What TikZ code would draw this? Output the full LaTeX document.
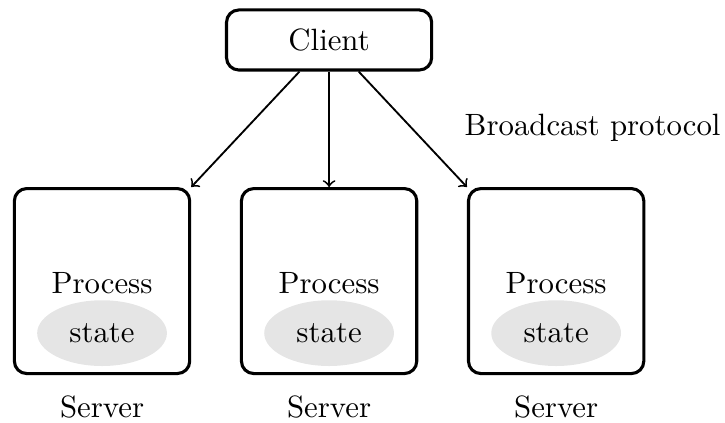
\documentclass[tikz,border=0pt]{standalone}
\usetikzlibrary{arrows.meta,positioning,shapes}
\begin{document}
\begin{tikzpicture}[xscale=1,yscale=1,>=to]
\tikzstyle{srv}=[draw,line width=1pt,rounded corners=4pt,minimum width=2cm,minimum height=2.11cm]
\tikzstyle{st}=[ellipse,fill=gray!20,minimum width=1.48cm,minimum height=0.75cm,inner sep=0pt]
\useasboundingbox (0,0) rectangle (8.27,-4.815);
\node[srv,minimum width=2.34cm,minimum height=0.685cm] (c) at (3.754,-0.456) {Client};
\node[srv] (s1) at (1.164,-3.206) {};
\node[srv] (s2) at (3.754,-3.206) {};
\node[srv] (s3) at (6.344,-3.206) {};
\node[st] (e1) at (1.164,-3.80) {state};
\node[st] (e2) at (3.754,-3.80) {state};
\node[st] (e3) at (6.344,-3.80) {state};
\node (p1) at (1.164,-3.23) {Process};
\node (p2) at (3.754,-3.23) {Process};
\node (p3) at (6.344,-3.23) {Process};
\node (l1) at (1.164,-4.644) {Server};
\node (l2) at (3.754,-4.644) {Server};
\node (l3) at (6.344,-4.644) {Server};
\node (bp) at (6.76,-1.46) {Broadcast protocol};
\draw[semithick,->] (c) -- (s1.north east);
\draw[semithick,->] (c) -- (s2.north);
\draw[semithick,->] (c) -- (s3.north west);
\end{tikzpicture}
\end{document}
